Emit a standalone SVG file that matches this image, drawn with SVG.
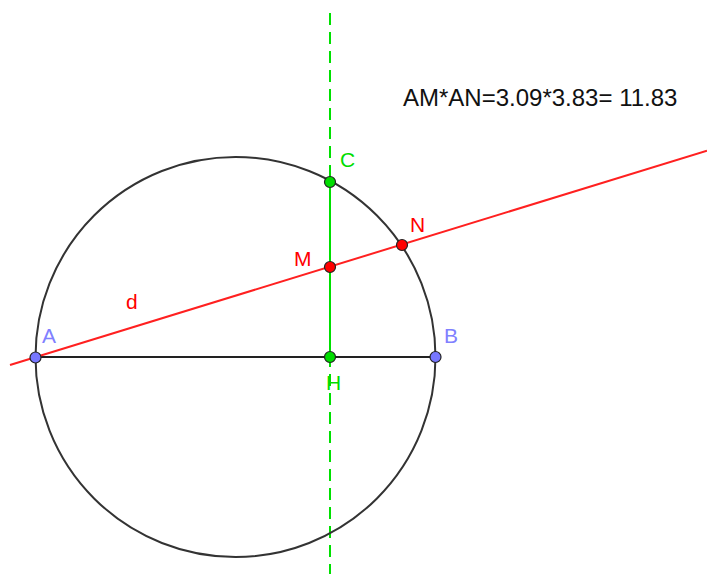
<svg xmlns="http://www.w3.org/2000/svg" width="707" height="574" viewBox="0 0 707 574">
<style>
.lbl{font-family:"Liberation Sans",Arial,sans-serif;font-size:21px}
.pt{stroke:#222;stroke-width:1.2}
</style>
<rect width="707" height="574" fill="#fff"/>
<g id="connectors">
<line x1="330" y1="13" x2="330" y2="574" stroke="#00e000" stroke-width="2" stroke-dasharray="12 7"/>
<circle cx="235.5" cy="357" r="200" fill="none" stroke="#333" stroke-width="2"/>
<line x1="35.5" y1="357" x2="435.5" y2="357" stroke="#222" stroke-width="2"/>
<line x1="330" y1="182" x2="330" y2="357" stroke="#00e000" stroke-width="2"/>
<line x1="10" y1="365" x2="707" y2="150.7" stroke="#ff2020" stroke-width="2"/>
</g>
<g id="formula"><text class="lbl" x="403" y="106" font-size="24" style="font-size:24px" fill="#111">AM*AN=3.09*3.83= 11.83</text></g>
<g id="d"><text class="lbl" x="126" y="309" fill="#ff0000">d</text></g>
<g id="A"><circle class="pt" cx="35.5" cy="357.5" r="5.5" fill="#7777ff"/><text class="lbl" x="42" y="343" fill="#8080ff">A</text></g>
<g id="B"><circle class="pt" cx="435.5" cy="357" r="5.5" fill="#7777ff"/><text class="lbl" x="444" y="343" fill="#8080ff">B</text></g>
<g id="C"><circle class="pt" cx="330" cy="182" r="5.5" fill="#00dd00"/><text class="lbl" x="340" y="167" fill="#00dd00">C</text></g>
<g id="H"><circle class="pt" cx="330" cy="357" r="5.5" fill="#00dd00"/><text class="lbl" x="326" y="390" fill="#00dd00">H</text></g>
<g id="M"><circle class="pt" cx="330" cy="267" r="5.5" fill="#ff0000"/><text class="lbl" x="294" y="266" fill="#ff0000">M</text></g>
<g id="N"><circle class="pt" cx="402" cy="245" r="5.5" fill="#ff0000"/><text class="lbl" x="410" y="232" fill="#ff0000">N</text></g>
</svg>
